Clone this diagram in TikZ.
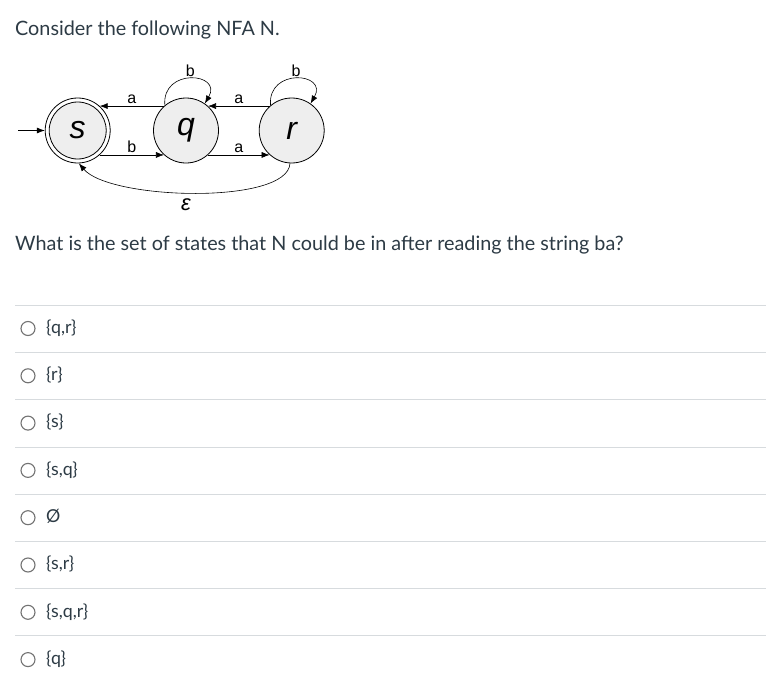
\documentclass[tikz,border=0pt]{standalone}
\usepackage{fontspec}
\setmainfont{Lato}
\newfontfamily\diafont{Liberation Sans}
\usetikzlibrary{arrows.meta}
\definecolor{txt}{HTML}{2D3B45}
\definecolor{sep}{HTML}{D7DBDE}
\definecolor{radio}{HTML}{737373}
\definecolor{stfill}{HTML}{EEEEEE}
\tikzset{
  statebox/.style={circle, draw=black, line width=0.8pt, fill=stfill, minimum size=65pt, inner sep=0pt, font=\diafont\itshape\fontsize{32}{32}\selectfont},
  outerring/.style={circle, draw=black, line width=0.8pt, fill=white, minimum size=65pt, inner sep=0pt},
  innerstate/.style={circle, draw=black, line width=0.8pt, fill=stfill, minimum size=57pt, inner sep=0pt, font=\diafont\itshape\fontsize{32}{32}\selectfont},
  trans/.style={line width=0.6pt, -{Latex[length=8pt,width=6pt]}},
  lbl/.style={font=\diafont\fontsize{16}{16}\selectfont, inner sep=1pt},
  qtext/.style={font=\fontsize{19.8}{24}\selectfont, text=txt, anchor=base west, inner sep=0pt},
  opttext/.style={font=\fontsize{17.8}{20}\selectfont, text=txt, anchor=base west, inner sep=0pt},
  radiobtn/.style={circle, draw=radio, line width=1.1pt, minimum size=14pt, inner sep=0pt},
  sepline/.style={draw=sep, line width=0.8pt}
}
\begin{document}
\begin{tikzpicture}[x=1pt,y=-1pt]
\useasboundingbox[fill=white] (0,0) rectangle (766,688);
\node[qtext] (head) at (15,35) {Consider the following NFA N.};
% automaton
\node[outerring] (s) at (77.7,130.5) {};
\node[innerstate] (si) at (s.center) {s};
\node[statebox] (q) at (186,130.5) {q};
\node[statebox] (r) at (291.7,130.5) {r};
\coordinate (init) at (18,130.5);
\draw[trans] (init) -- (s.west);
\draw[trans] (q.132) -- node[lbl, above=1pt] {a} (s.48);
\draw[trans] (s.-48) -- node[lbl, above=1pt] {b} (q.-132);
\draw[trans] (r.132) -- node[lbl, above=1pt] {a} (q.48);
\draw[trans] (q.-48) -- node[lbl, above=1pt] {a} (r.-132);
\draw[trans] (q.130) .. controls +(-95:38) and +(-60:36) .. node[lbl, above=1pt] {b} (q.55);
\draw[trans] (r.130) .. controls +(-95:38) and +(-60:36) .. node[lbl, above=1pt] {b} (r.55);
\draw[trans] (r.-93) .. controls (288,205) and (110,200) .. (s.-88);
\node[font=\diafont\itshape\fontsize{22}{22}\selectfont] (eps) at (186,205) {ε};
\node[qtext] (question) at (15,250) {What is the set of states that N could be in after reading the string ba?};
% options
\foreach \i/\t in {0/{\{q,r\}},1/{\{r\}},2/{\{s\}},3/{\{s,q\}},4/{Ø},5/{\{s,r\}},6/{\{s,q,r\}},7/{\{q\}}}{
  \pgfmathsetmacro{\yc}{328.5+47.3*\i}
  \node[radiobtn] (rb\i) at (28,\yc) {};
  \node[opttext] (opt\i) at (46,\yc+4.8) {\t};
}
\foreach \i in {0,...,7}{
  \pgfmathsetmacro{\yl}{305.3+47.2*\i}
  \coordinate (la\i) at (15,\yl);
  \coordinate (lb\i) at (766,\yl);
  \draw[sepline] (la\i) -- (lb\i);
}
\end{tikzpicture}
\end{document}
